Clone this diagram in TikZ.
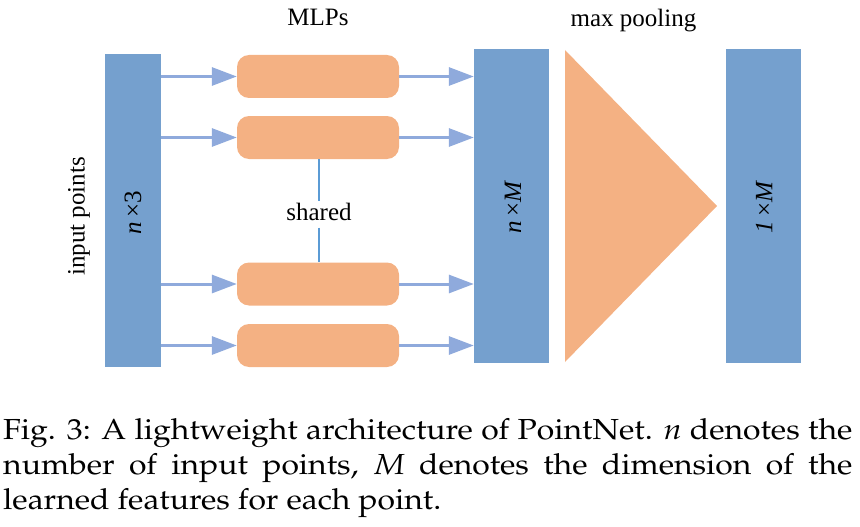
\documentclass[tikz,border=0pt]{standalone}
\usepackage[T1]{fontenc}
\usepackage{fontspec}
\setmainfont{Liberation Serif}
\usetikzlibrary{arrows.meta}
\definecolor{blk}{RGB}{117,160,206}
\definecolor{org}{RGB}{244,177,131}
\definecolor{arr}{RGB}{143,170,220}
\definecolor{shl}{RGB}{91,155,213}
\newcommand{\palfont}{\fontencoding{T1}\fontfamily{ppl}\selectfont}
\begin{document}
\begin{tikzpicture}[x=1pt,y=-1pt,
  blockbox/.style={fill=blk, draw=none, minimum width=#1, minimum height=314pt, inner sep=0pt},
  mlpbox/.style={fill=org, draw=none, rounded corners=12pt, minimum width=162pt, minimum height=43pt, inner sep=0pt},
  flowarrow/.style={draw=arr, line width=3pt, -{Triangle[length=25pt,width=18pt]}, shorten >=0pt},
  lbl/.style={font=\fontsize{25}{30}\selectfont, inner sep=0pt},
  dimlbl/.style={font=\fontsize{25}{30}\selectfont, inner sep=0pt, rotate=90}
]
\useasboundingbox (0,0) rectangle (860,527);
% blocks
\node[blockbox=56pt, minimum height=313pt] (inp) at (133,210.5) {};
\node[blockbox=75pt] (feat) at (511.5,206) {};
\node[blockbox=75pt] (glob) at (763.5,206) {};
% MLP boxes
\node[mlpbox] (m1) at (318,76.5) {};
\node[mlpbox] (m2) at (318,137.5) {};
\node[mlpbox] (m3) at (318,284) {};
\node[mlpbox] (m4) at (318,345.5) {};
% max pooling triangle
\coordinate (t1) at (565,50);
\coordinate (t2) at (565,362);
\coordinate (t3) at (717,206);
\fill[org] (t1) -- (t3) -- (t2) -- cycle;
% arrows
\foreach \m in {m1,m2,m3,m4}{
  \draw[flowarrow] (inp.east |- \m.west) -- (\m.west);
  \draw[flowarrow] (\m.east) -- (feat.west |- \m.east);
}
% labels
\node[lbl, anchor=base] (mlps) at (318,26) {MLPs};
\node[lbl, anchor=base] (mp) at (633.5,27) {max pooling};
\node[lbl, anchor=base, inner ysep=1.5pt, text depth=6pt] (sh) at (319,220) {shared};
\draw[shl, line width=1.5pt] (m2.south -| sh.north) -- (sh.north);
\draw[shl, line width=1.5pt] (sh.south) -- (m3.north -| sh.south);
\node[dimlbl] (ip) at (79,216.5) {input points};
\node[dimlbl] (d1) at (133,213) {\textit{n}\,×3};
\node[dimlbl] (d2) at (513,207) {\textit{n}\,×\textit{M}};
\node[dimlbl] (d3) at (764,207) {\textit{1}\,×\textit{M}};
% caption
\node[anchor=north west, inner sep=0pt] (cap) at (3,418)
  {\scalebox{1.1}[1]{\parbox[t]{772pt}{\palfont\fontsize{29}{35}\selectfont
   Fig. 3: A lightweight architecture of PointNet. \textit{n} denotes the\linebreak number of input points, \textit{M} denotes the dimension of the\linebreak learned features for each point.}}};
\end{tikzpicture}
\end{document}
